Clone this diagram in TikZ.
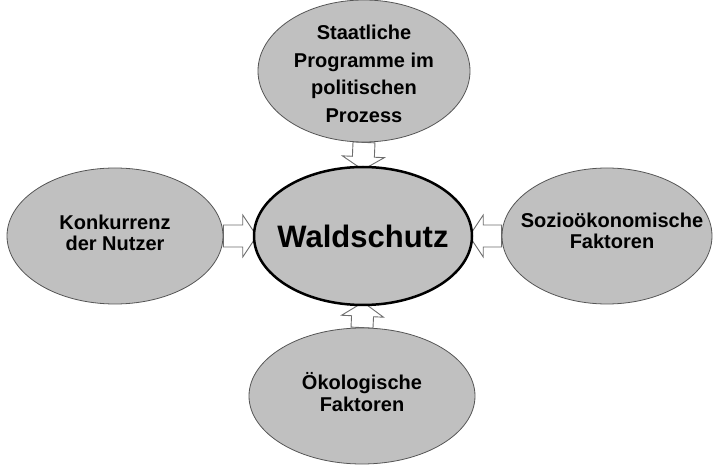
\documentclass[tikz,border=0pt]{standalone}
\usepackage{fontspec}
\setmainfont{Liberation Sans}
\usetikzlibrary{shapes.geometric,calc,backgrounds}
\definecolor{ovalgray}{RGB}{192,192,192}
\definecolor{rimgray}{RGB}{85,85,85}
\definecolor{arrowgray}{RGB}{110,110,110}
\tikzset{
  factor/.style={ellipse,draw=rimgray,line width=0.8pt,fill=ovalgray,inner sep=0pt},
  factortext/.style={align=center,inner sep=0pt,font=\fontsize{20}{21.5}\selectfont\bfseries},
  core/.style={ellipse,draw=black,line width=2.5pt,fill=ovalgray,inner sep=0pt,
    minimum width=218pt,minimum height=138pt},
  coretext/.style={inner sep=0pt,font=\fontsize{31}{36}\selectfont\bfseries},
  flow/.style={draw=arrowgray,line width=0.9pt,fill=white,line join=miter}
}
% block arrow from #2 to #3, head base #1 before the end
\newcommand{\blockarrow}[3][10pt]{%
  \path (#2) coordinate (ba-a) (#3) coordinate (ba-b);
  \coordinate (ba-h) at ($(ba-b)!#1!(ba-a)$);
  \coordinate (ba-t) at ($(ba-b)!-4pt!(ba-a)$);
  \draw[flow] ($(ba-a)!11pt!90:(ba-b)$) -- ($(ba-h)!11pt!-90:(ba-a)$) -- ($(ba-h)!21pt!-90:(ba-a)$)
    -- (ba-t) -- ($(ba-h)!21pt!90:(ba-a)$) -- ($(ba-h)!11pt!90:(ba-a)$) -- ($(ba-a)!11pt!-90:(ba-b)$) -- cycle;
}
\begin{document}
\begin{tikzpicture}[x=1pt,y=-1pt]
\useasboundingbox (0,0) rectangle (713,465);
% Centre
\node(wald)[core] at (363,236) {};
\node(wald-t)[coretext] at (wald) {Waldschutz};
% Factors
\node(staat)[factor,minimum width=212pt,minimum height=142pt] at (364,71) {};
\node(staat-t)[factortext,font=\fontsize{20}{27.7}\selectfont\bfseries] at ([yshift=-3pt]staat) {Staatliche\\Programme im\\politischen\\Prozess};
\node(konk)[factor,minimum width=216pt,minimum height=136pt] at (115,236) {};
\node(konk-t)[factortext] at ([yshift=3pt]konk) {Konkurrenz\\der Nutzer};
\node(sozio)[factor,minimum width=210pt,minimum height=136pt] at (607,236) {};
\node(sozio-t)[factortext] at ([xshift=5pt,yshift=5pt]sozio) {Sozioökonomische\\Faktoren};
\node(oeko)[factor,minimum width=226pt,minimum height=136pt] at (362,396) {};
\node(oeko-t)[factortext] at ([yshift=4pt]oeko) {Ökologische\\Faktoren};
% Arrows
\begin{scope}[on background layer]
\blockarrow[9pt]{staat.south}{wald.north}
\blockarrow{konk.east}{wald.west}
\blockarrow{sozio.west}{wald.east}
\blockarrow{oeko.north}{wald.south}
\end{scope}
\end{tikzpicture}
\end{document}
